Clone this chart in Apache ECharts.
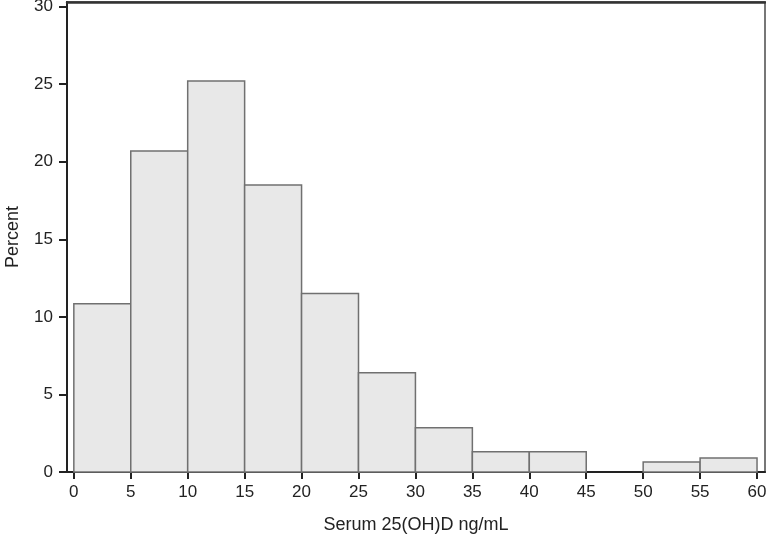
<!DOCTYPE html>
<html>
<head>
<meta charset="utf-8">
<script src="https://cdn.jsdelivr.net/npm/echarts@6/dist/echarts.min.js"></script>
<style>
  html, body { margin: 0; padding: 0; background: #fff; }
  #chart { width: 766px; height: 537px; }
</style>
</head>
<body>
<div id="chart"></div>
<script>
// bins of serum 25(OH)D (ng/mL) and percent of subjects
const binStart = [0, 5, 10, 15, 20, 25, 30, 35, 40, 45, 50, 55];
const binEnd = [5, 10, 15, 20, 25, 30, 35, 40, 45, 50, 55, 60];
const percent = [10.85, 20.7, 25.2, 18.5, 11.5, 6.4, 2.85, 1.3, 1.3, 0, 0.65, 0.9];
const xTicks = [0, 5, 10, 15, 20, 25, 30, 35, 40, 45, 50, 55, 60];
const yTicks = [0, 5, 10, 15, 20, 25, 30];

const data = binStart.map((s, i) => [s, binEnd[i], percent[i]]);

const chart = echarts.init(document.getElementById("chart"));

const font = "'Liberation Sans', Arial, sans-serif";

chart.setOption({
  animation: false,
  grid: {
    left: 67,
    right: 1,
    top: 2,
    bottom: 65,
    outerBoundsMode: "none",
    show: true,
    borderColor: "#777",
    borderWidth: 2,
  },
  xAxis: [
    {
      type: "value",
      min: -0.6,
      max: 60.7,
      name: "Serum 25(OH)D ng/mL",
      nameLocation: "middle",
      nameGap: 44,
      nameTextStyle: { color: "#222", fontSize: 18, fontFamily: font },
      splitLine: { show: false },
      axisLine: { show: true, onZero: false, lineStyle: { color: "#222", width: 2 } },
      axisTick: {
        show: true,
        customValues: xTicks,
        length: 7,
        lineStyle: { color: "#222", width: 2 },
      },
      axisLabel: {
        customValues: xTicks,
        color: "#222",
        fontSize: 17,
        fontFamily: font,
        margin: 12,
      },
    },
    {
      // top frame line only
      type: "value",
      position: "top",
      min: -0.6,
      max: 60.7,
      splitLine: { show: false },
      axisLine: { show: true, onZero: false, lineStyle: { color: "#333", width: 2.5 } },
      axisTick: { show: false },
      axisLabel: { show: false },
    },
  ],
  yAxis: {
    type: "value",
    min: 0,
    max: 30.3,
    name: "Percent",
    nameLocation: "middle",
    nameGap: 45,
    nameRotate: 90,
    nameTextStyle: { color: "#222", fontSize: 18, fontFamily: font },
    splitLine: { show: false },
    axisLine: { show: true, onZero: false, lineStyle: { color: "#222", width: 2 } },
    axisTick: {
      show: true,
      customValues: yTicks,
      length: 8,
      lineStyle: { color: "#222", width: 2 },
    },
    axisLabel: {
      customValues: yTicks,
      color: "#222",
      fontSize: 17,
      fontFamily: font,
      margin: 14,
    },
  },
  series: [
    {
      type: "custom",
      data: data,
      encode: { x: [0, 1], y: 2 },
      renderItem: (params, api) => {
        if (api.value(2) <= 0) return null;
        const p0 = api.coord([api.value(0), 0]);
        const p1 = api.coord([api.value(1), api.value(2)]);
        return {
          type: "rect",
          shape: {
            x: p0[0],
            y: p1[1],
            width: p1[0] - p0[0],
            height: p0[1] - p1[1],
          },
          style: {
            fill: "#e8e8e8",
            stroke: "#707070",
            lineWidth: 1.5,
          },
        };
      },
    },
  ],
});
</script>
</body>
</html>
